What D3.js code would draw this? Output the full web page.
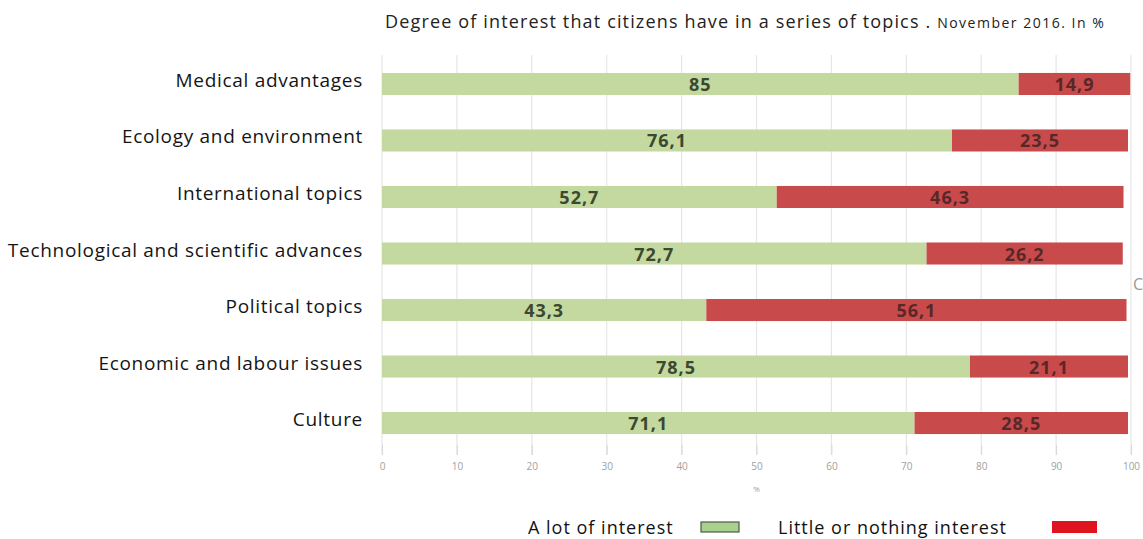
<!DOCTYPE html>
<html>
<head>
<meta charset="utf-8">
<title>Degree of interest</title>
<script src="https://cdn.jsdelivr.net/npm/d3@7"></script>
<style>
  body { margin: 0; background: #fff; }
</style>
</head>
<body>
<div id="chart"></div>
<script>
var width = 1143, height = 539;
var margin = {top: 55, right: 12, bottom: 84, left: 382};

var topics = ["Medical advantages", "Ecology and environment", "International topics",
  "Technological and scientific advances", "Political topics", "Economic and labour issues", "Culture"];
var lotOfInterest = [85, 76.1, 52.7, 72.7, 43.3, 78.5, 71.1];
var littleInterest = [14.9, 23.5, 46.3, 26.2, 56.1, 21.1, 28.5];
var xTicks = [0, 10, 20, 30, 40, 50, 60, 70, 80, 90, 100];
var seriesNames = ["A lot of interest", "Little or nothing interest"];

var green = "#c3d99f", red = "#c84a4b";
var fmt = function(v) { return String(v).replace(".", ","); };

var svg = d3.select("#chart").append("svg")
    .attr("width", width)
    .attr("height", height)
    .style("font-family", "'Open Sans', sans-serif");

var x = d3.scaleLinear().domain([0, 100]).range([margin.left, 1131]);
var y = d3.scaleBand().domain(topics).range([56, 451]).paddingInner(0.61).paddingOuter(0.3);

// vertical grid
svg.append("g").selectAll("line")
    .data(xTicks)
    .enter().append("line")
    .attr("x1", d => x(d)).attr("x2", d => x(d))
    .attr("y1", 55).attr("y2", 455)
    .attr("stroke", "#e6e6e6")
    .attr("stroke-width", 1.2);

// x axis
var xAxis = svg.append("g")
    .attr("transform", "translate(0,445)")
    .call(d3.axisBottom(x).tickValues(xTicks).tickSize(10).tickPadding(8))
    .call(g => g.select(".domain").remove());
xAxis.selectAll("line").attr("stroke", "#d8d8d8");
xAxis.selectAll("text")
    .attr("fill", "#a0a0a0")
    .style("font-size", "10px")
    .style("font-family", "'Open Sans', sans-serif");

svg.append("text")
    .attr("x", x(50)).attr("y", 492)
    .attr("text-anchor", "middle")
    .attr("fill", "#a0a0a0")
    .style("font-size", "8px")
    .text("%");

// rows
var rows = topics.map((t, i) => ({topic: t, a: lotOfInterest[i], b: littleInterest[i]}));

var row = svg.append("g").selectAll("g")
    .data(rows)
    .enter().append("g");

row.append("rect")
    .attr("x", x(0))
    .attr("y", d => y(d.topic))
    .attr("width", d => x(d.a) - x(0))
    .attr("height", y.bandwidth())
    .attr("fill", green);

row.append("rect")
    .attr("x", d => x(d.a))
    .attr("y", d => y(d.topic))
    .attr("width", d => x(d.a + d.b) - x(d.a))
    .attr("height", y.bandwidth())
    .attr("fill", red);

row.append("text")
    .attr("x", d => x(d.a / 2))
    .attr("y", d => y(d.topic) + y.bandwidth() / 2 + 7)
    .attr("text-anchor", "middle")
    .attr("fill", "#3c4830")
    .style("font-size", "18px")
    .style("font-weight", "bold")
    .style("letter-spacing", "1px")
    .text(d => fmt(d.a));

row.append("text")
    .attr("x", d => x(d.a + d.b / 2))
    .attr("y", d => y(d.topic) + y.bandwidth() / 2 + 7)
    .attr("text-anchor", "middle")
    .attr("fill", "#582828")
    .style("font-size", "18px")
    .style("font-weight", "bold")
    .style("letter-spacing", "1px")
    .text(d => fmt(d.b));

// category labels
row.append("text")
    .attr("x", 363)
    .attr("y", d => y(d.topic) + y.bandwidth() / 2 + 3)
    .attr("text-anchor", "end")
    .attr("fill", "#151515")
    .style("font-size", "19px")
    .style("letter-spacing", "0.7px")
    .text(d => d.topic);

// title
var title = svg.append("text")
    .attr("x", 385).attr("y", 28)
    .attr("fill", "#222")
    .style("font-size", "18px")
    .style("letter-spacing", "1.15px");
title.append("tspan").text("Degree of interest that citizens have in a series of topics . ");
title.append("tspan").style("font-size", "14px").style("letter-spacing", "1.5px").text("November 2016. In %");

svg.append("text")
    .attr("x", 1133).attr("y", 290)
    .attr("fill", "#999")
    .style("font-size", "16px")
    .text("C");

// legend
var legend = svg.append("g")
    .style("font-size", "18px")
    .style("letter-spacing", "1px");
legend.append("text")
    .attr("x", 528).attr("y", 534)
    .attr("fill", "#111")
    .text(seriesNames[0]);
legend.append("rect")
    .attr("x", 701).attr("y", 522)
    .attr("width", 38).attr("height", 10)
    .attr("fill", "#a9d08e")
    .attr("stroke", "#4a5a45")
    .attr("stroke-width", 1.2);
legend.append("text")
    .attr("x", 778).attr("y", 534)
    .attr("fill", "#111")
    .text(seriesNames[1]);
legend.append("rect")
    .attr("x", 1052).attr("y", 521)
    .attr("width", 45).attr("height", 12)
    .attr("fill", "#e0141f");
</script>
</body>
</html>
